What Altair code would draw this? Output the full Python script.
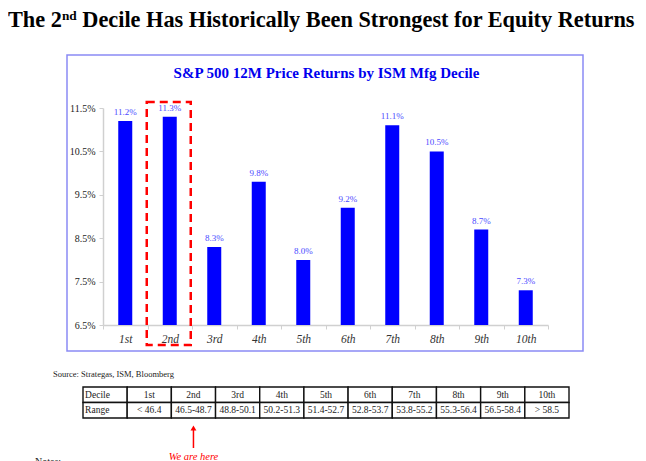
import altair as alt
import pandas as pd

# ---------------- data ----------------
deciles = ["1st", "2nd", "3rd", "4th", "5th", "6th", "7th", "8th", "9th", "10th"]
returns = [11.2, 11.3, 8.3, 9.8, 8.0, 9.2, 11.1, 10.5, 8.7, 7.3]
ranges = ["< 46.4", "46.5-48.7", "48.8-50.1", "50.2-51.3", "51.4-52.7",
          "52.8-53.7", "53.8-55.2", "55.3-56.4", "56.5-58.4", "> 58.5"]
y_ticks = [6.5, 7.5, 8.5, 9.5, 10.5, 11.5]
current_decile = "2nd"

title_parts = ["The 2", "nd", "Decile Has Historically Been Strongest for Equity Returns"]
chart_title = "S&P 500 12M Price Returns by ISM Mfg Decile"
source_text = "Source: Strategas, ISM, Bloomberg"
table_rows = ["Decile", "Range"]
arrow_text = "We are here"
notes_text = "Notes:"

SERIF = "Liberation Serif"

# ---------------- tables built from the lists ----------------
bars_df = pd.DataFrame({"decile": deciles, "ret": returns})
bars_df["label"] = [f"{v:.1f}%" for v in returns]

table_cols = ["hdr"] + deciles
trows = []
for i, c in enumerate(table_cols):
    trows.append({"col": c, "row": "Decile", "text": "Decile" if c == "hdr" else c})
    trows.append({"col": c, "row": "Range", "text": "Range" if c == "hdr" else ranges[i - 1]})
table_df = pd.DataFrame(trows)
marker_df = pd.DataFrame({"col": [current_decile], "text": [arrow_text]})
box_df = pd.DataFrame({"decile": [current_decile]})


def one(text):
    return pd.DataFrame({"t": [text]})


# ---------------- main bar chart ----------------
X = alt.X("decile:N", sort=deciles, title=None,
          scale=alt.Scale(domain=deciles, paddingInner=0, paddingOuter=0),
          axis=alt.Axis(labelAngle=0, labelFontStyle="italic", labelFontSize=11.5,
                        labelFont=SERIF, labelColor="#333333", tickBand="extent",
                        tickColor="#d0d0d0", tickSize=4, domainColor="#d0d0d0",
                        domainWidth=1.5, labelPadding=4))
Y = alt.Y("ret:Q", title=None,
          scale=alt.Scale(domain=[6.5, 11.5], zero=False, nice=False),
          axis=alt.Axis(values=y_ticks, labelExpr="format(datum.value, '.1f') + '%'",
                        grid=False, domainColor="#d0d0d0", domainWidth=1.5,
                        tickColor="#d0d0d0", tickSize=4, labelFontSize=10,
                        labelFont=SERIF, labelColor="#222222", labelPadding=4))

bars = alt.Chart(bars_df).mark_bar(color="#0000ff", size=14).encode(
    x=X, y=Y, y2=alt.datum(6.5))
labels = alt.Chart(bars_df).mark_text(
    dy=-6, baseline="alphabetic", font=SERIF, fontSize=9, color="#4a4aff"
).encode(x=X, y=Y, text="label:N")
box = alt.Chart(box_df).mark_bar(
    size=44, xOffset=-1, fill="transparent", stroke="#ff0000", strokeWidth=2.5,
    strokeDash=[8, 5]
).encode(x=X, y=alt.value(-6), y2=alt.value(237))

main = alt.layer(bars, labels, box)

# ---------------- table ----------------
TX = alt.X("col:N", axis=None,
           scale=alt.Scale(domain=table_cols, range=[-20, 466], paddingInner=0, paddingOuter=0))
TY = alt.Y("row:N", axis=None,
           scale=alt.Scale(domain=table_rows, range=[279, 310], paddingInner=0, paddingOuter=0))

cells = alt.Chart(table_df).mark_rect(fill="white", stroke="#111111", strokeWidth=1.4).encode(x=TX, y=TY)
cell_txt = alt.Chart(table_df).transform_filter("datum.col != 'hdr'").mark_text(
    font=SERIF, fontSize=9.5, color="#222222").encode(x=TX, y=TY, text="text:N")
hdr_txt = alt.Chart(table_df).transform_filter("datum.col == 'hdr'").mark_text(
    font=SERIF, fontSize=9.5, color="#222222", align="left", dx=-20).encode(x=TX, y=TY, text="text:N")
arrow_line = alt.Chart(marker_df).mark_rule(color="#ff0000", strokeWidth=1.5).encode(
    x=TX, y=alt.value(321), y2=alt.value(340))
arrow_head = alt.Chart(marker_df).mark_point(
    shape="triangle-up", filled=True, size=35, color="#ff0000", opacity=1).encode(
    x=TX, y=alt.value(320))
arrow_lbl = alt.Chart(marker_df).mark_text(
    font=SERIF, fontSize=10.5, fontStyle="italic", color="#ff0000", baseline="middle").encode(
    x=TX, y=alt.value(349), text="text:N")

table = alt.layer(cells, cell_txt, hdr_txt, arrow_line, arrow_head, arrow_lbl)

# ---------------- annotations ----------------
frame = alt.Chart(one("frame")).mark_rect(
    fill="transparent", stroke="#8a8af5", strokeWidth=1.5).encode(
    x=alt.value(-36), x2=alt.value(480), y=alt.value(-53), y2=alt.value(243))
t1 = alt.Chart(one(title_parts[0])).mark_text(
    font=SERIF, fontSize=22.3, fontWeight="bold", align="left", baseline="alphabetic", color="#000000"
).encode(x=alt.value(-95), y=alt.value(-81.5), text="t:N")
t2 = alt.Chart(one(title_parts[1])).mark_text(
    font=SERIF, fontSize=13.3, fontWeight="bold", align="left", baseline="alphabetic", color="#000000"
).encode(x=alt.value(-41.1), y=alt.value(-88.5), text="t:N")
t3 = alt.Chart(one(title_parts[2])).mark_text(
    font=SERIF, fontSize=22.3, fontWeight="bold", align="left", baseline="alphabetic", color="#000000"
).encode(x=alt.value(-20.7), y=alt.value(-81.5), text="t:N")
sub = alt.Chart(one(chart_title)).mark_text(
    font=SERIF, fontSize=15, fontWeight="bold", align="center", baseline="alphabetic", color="#0000ee"
).encode(x=alt.value(223.5), y=alt.value(-30), text="t:N")
src = alt.Chart(one(source_text)).mark_text(
    font=SERIF, fontSize=8.5, align="left", baseline="middle", color="#222222"
).encode(x=alt.value(-50), y=alt.value(266), text="t:N")
notes = alt.Chart(one(notes_text)).mark_text(
    font=SERIF, fontSize=10, align="left", baseline="alphabetic", color="#222222"
).encode(x=alt.value(-68), y=alt.value(357), text="t:N")

chart = alt.layer(frame, t1, t2, t3, sub, src, notes, main, table).resolve_scale(
    x="independent", y="independent"
).properties(
    width=445, height=217,
    padding={"left": 95, "top": 100, "right": 90, "bottom": 136},
    autosize=alt.AutoSizeParams(type="none"),
).configure_view(stroke="transparent")

chart.save("out.html", embed_options={"renderer": "svg", "actions": False})
